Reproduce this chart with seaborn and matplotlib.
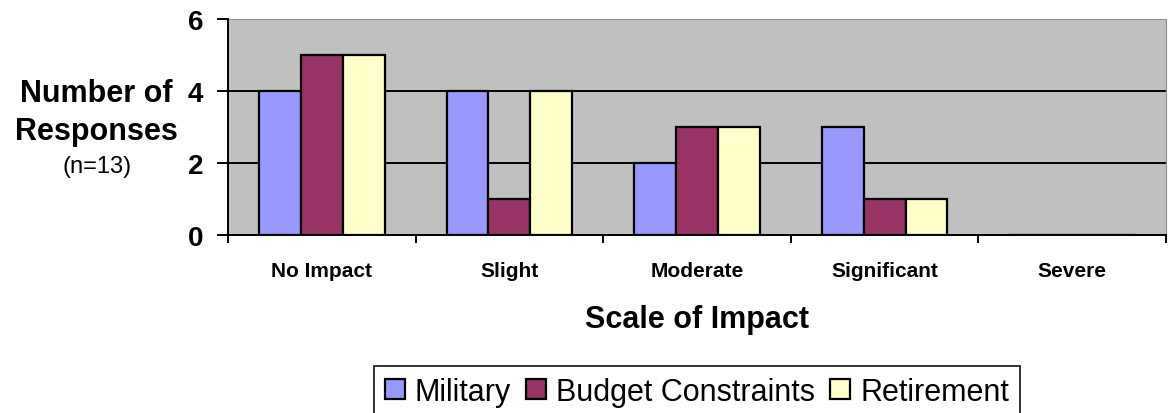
import seaborn as sns
import matplotlib.pyplot as plt
import pandas as pd

# chart values
categories = ["No Impact", "Slight", "Moderate", "Significant", "Severe"]
military = [4, 4, 2, 3, 0]
budget = [5, 1, 3, 1, 0]
retirement = [5, 4, 3, 1, 0]
series_names = ["Military", "Budget Constraints", "Retirement"]
colors = ["#9999FF", "#993366", "#FFFFCC"]
yticks = [0, 2, 4, 6]

df = pd.DataFrame({
    "impact": categories * 3,
    "count": military + budget + retirement,
    "source": [series_names[0]] * 5 + [series_names[1]] * 5 + [series_names[2]] * 5,
})

sns.set_style("white")
plt.rcParams["font.family"] = ["Liberation Sans", "DejaVu Sans"]
plt.rcParams["text.color"] = "black"
plt.rcParams["xtick.color"] = "black"
plt.rcParams["ytick.color"] = "black"

fig = plt.figure(figsize=(11.71, 4.14), dpi=100)
ax = fig.add_axes([228 / 1171, 1 - 236 / 414, 938 / 1171, 216 / 414])
ax.set_facecolor("#C0C0C0")

sns.barplot(data=df, x="impact", y="count", hue="source", order=categories,
            hue_order=series_names, palette=colors, width=0.67, saturation=1,
            edgecolor="black", linewidth=1.6, ax=ax)

handles, labels = ax.get_legend_handles_labels()
ax.get_legend().remove()

ax.set_xlim(-0.5, len(categories) - 0.5)
ax.set_ylim(0, 6)
ax.set_yticks(yticks)
ax.yaxis.grid(True, color="black", linewidth=1.4)
ax.get_ygridlines()[-1].set_color("#8c8c8c")
ax.set_axisbelow(True)

for s in ["left", "bottom"]:
    ax.spines[s].set_color("black")
    ax.spines[s].set_linewidth(1.4)
ax.spines["top"].set_visible(False)
ax.spines["right"].set_color("#8c8c8c")

ax.set_xlabel("")
ax.set_ylabel("")
ax.tick_params(axis="y", which="major", direction="out", length=8, width=1.4,
               labelsize=20, pad=10, left=True)
for t in ax.get_yticklabels():
    t.set_fontweight("bold")

ax.set_xticks([i - 0.5 for i in range(len(categories) + 1)], minor=True)
ax.tick_params(axis="x", which="minor", direction="out", length=6, width=1.4,
               bottom=True)
ax.tick_params(axis="x", which="major", length=0, labelsize=15, pad=19)
for t in ax.get_xticklabels():
    t.set_fontweight("bold")

fig.text(96 / 1171, 1 - 113 / 414, "Number of\nResponses", ha="center",
         va="center", fontsize=22, fontweight="bold", linespacing=1.35)
fig.text(97 / 1171, 1 - 167 / 414, "(n=13)", ha="center", va="center",
         fontsize=17)
fig.text(697 / 1171, 1 - 320 / 414, "Scale of Impact", ha="center",
         va="center", fontsize=22, fontweight="bold")

leg = fig.legend(handles, labels, loc="upper center", ncol=3,
                 bbox_to_anchor=(697 / 1171, 1 - 367 / 414), fontsize=22,
                 frameon=True, fancybox=False, edgecolor="black",
                 handlelength=0.65, handleheight=0.65, handletextpad=0.33,
                 columnspacing=0.5, borderpad=0.35, borderaxespad=0)
leg.get_frame().set_linewidth(1.4)

fig.savefig("out.png", dpi=100)
